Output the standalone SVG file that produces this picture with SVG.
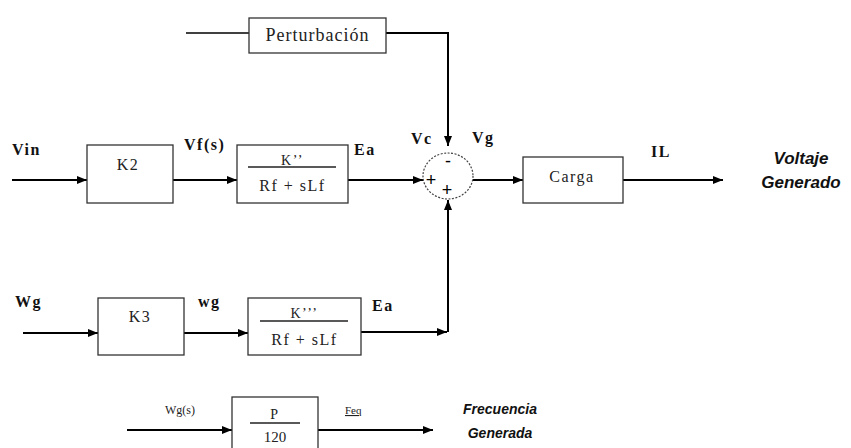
<svg xmlns="http://www.w3.org/2000/svg" width="851" height="448" viewBox="0 0 851 448">
<defs>
<marker id="ah" viewBox="0 0 10 10" refX="10" refY="5" markerWidth="10" markerHeight="10" markerUnits="userSpaceOnUse" orient="auto">
<path d="M0,1 L10,5 L0,9 Z" fill="#000"/>
</marker>
<style>
.box{fill:#fff;stroke:#333;stroke-width:1.3}
.ln{fill:none;stroke:#000;stroke-width:2}
.t{font-family:"Liberation Serif",serif;font-size:16px;fill:#222;letter-spacing:1.5px}
.lb{font-family:"Liberation Serif",serif;font-size:16px;font-weight:bold;fill:#111;letter-spacing:1.5px}
.out{font-family:"Liberation Sans",Arial,sans-serif;font-size:14px;font-weight:bold;font-style:italic;fill:#111}
.sg{font-family:"Liberation Sans",Arial,sans-serif;font-size:18px;fill:#000}
</style>
</defs>
<rect width="851" height="448" fill="#fff"/>
<g id="connectors">
<path class="ln" d="M186,33 H249" style="stroke-width:1.5"/>
<path class="ln" d="M386,33 H448 V146" marker-end="url(#ah)"/>
<path class="ln" d="M12,180 H87" marker-end="url(#ah)"/>
<path class="ln" d="M173,180 H237" marker-end="url(#ah)"/>
<path class="ln" d="M348,180 H423" marker-end="url(#ah)"/>
<path class="ln" d="M473,180 H523" marker-end="url(#ah)"/>
<path class="ln" d="M623,180 H723" marker-end="url(#ah)"/>
<path class="ln" d="M23,333 H98" marker-end="url(#ah)"/>
<path class="ln" d="M184,333 H248" marker-end="url(#ah)"/>
<path class="ln" d="M361,332 H447" marker-end="url(#ah)"/>
<path class="ln" d="M448,332 V200" marker-end="url(#ah)"/>
<path class="ln" d="M127,430 H232" marker-end="url(#ah)"/>
<path class="ln" d="M318,430 H433" marker-end="url(#ah)"/>
</g>
<g id="perturbacion">
<rect class="box" x="249" y="18" width="137" height="35"/>
<text class="t" x="317.5" y="41" text-anchor="middle" style="font-size:18px;letter-spacing:1px">Perturbación</text>
</g>
<g id="k2">
<rect class="box" x="87" y="145" width="86" height="58"/>
<text class="t" x="128" y="170" text-anchor="middle">K2</text>
</g>
<g id="gf1">
<rect class="box" x="237" y="145" width="111" height="58"/>
<text class="t" x="292.5" y="165" text-anchor="middle" style="font-size:14px">K’’</text>
<line x1="248" y1="167" x2="336" y2="167" stroke="#222" stroke-width="1.3"/>
<text class="t" x="292.5" y="191" text-anchor="middle">Rf + sLf</text>
</g>
<g id="suma">
<ellipse cx="448" cy="176" rx="25" ry="23" fill="#fff" stroke="#444" stroke-width="1.2" stroke-dasharray="2,1.5"/>
<text class="sg" x="448" y="167" text-anchor="middle">-</text>
<text class="sg" x="431" y="186" text-anchor="middle">+</text>
<text class="sg" x="447" y="196" text-anchor="middle">+</text>
</g>
<g id="carga">
<rect class="box" x="523" y="157" width="100" height="46"/>
<text class="t" x="572" y="182" text-anchor="middle">Carga</text>
</g>
<g id="k3">
<rect class="box" x="98" y="298" width="86" height="57"/>
<text class="t" x="140" y="322" text-anchor="middle">K3</text>
</g>
<g id="gf2">
<rect class="box" x="248" y="298" width="113" height="57"/>
<text class="t" x="304.5" y="318" text-anchor="middle" style="font-size:14px">K’’’</text>
<line x1="260" y1="321" x2="348" y2="321" stroke="#222" stroke-width="1.3"/>
<text class="t" x="304.5" y="345" text-anchor="middle">Rf + sLf</text>
</g>
<g id="p120">
<rect class="box" x="232" y="397" width="86" height="60"/>
<text class="t" x="275" y="419" text-anchor="middle" style="font-size:14px">P</text>
<line x1="250" y1="423" x2="300" y2="423" stroke="#222" stroke-width="1.3"/>
<text class="t" x="275" y="442" text-anchor="middle" style="font-size:15px;letter-spacing:0">120</text>
</g>
<g id="labels">
<text class="lb" x="12" y="155">Vin</text>
<text class="lb" x="184" y="150">Vf(s)</text>
<text class="lb" x="354" y="155">Ea</text>
<text class="lb" x="411" y="144">Vc</text>
<text class="lb" x="472" y="143">Vg</text>
<text class="lb" x="651" y="157">IL</text>
<text class="out" x="801" y="164" text-anchor="middle" style="font-size:17px">Voltaje</text>
<text class="out" x="801" y="188" text-anchor="middle" style="font-size:17px">Generado</text>
<text class="lb" x="15" y="307">Wg</text>
<text class="lb" x="198" y="307">wg</text>
<text class="lb" x="372" y="311">Ea</text>
<text class="t" x="165" y="414" style="font-size:12px;letter-spacing:0">Wg(s)</text>
<text class="t" x="345" y="414" style="font-size:11px;letter-spacing:0;text-decoration:underline">Feq</text>
<text class="out" x="500" y="414" text-anchor="middle">Frecuencia</text>
<text class="out" x="500" y="438" text-anchor="middle">Generada</text>
</g>
</svg>
